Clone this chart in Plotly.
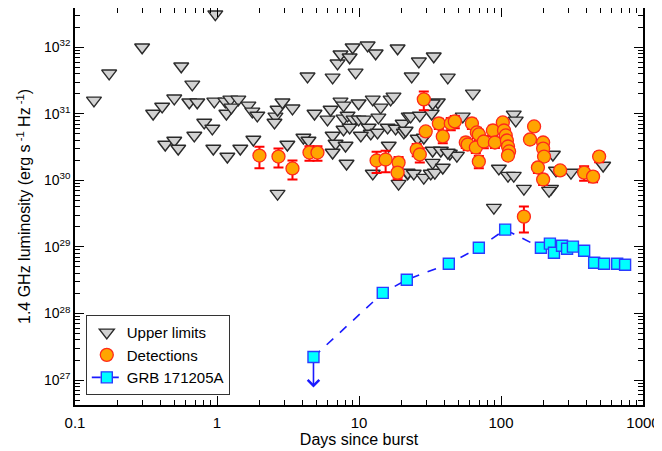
import math
import plotly.graph_objects as go

# ---------------- data ----------------
# Upper limits (days since burst, 1.4 GHz luminosity erg/s/Hz)
ul_days = [0.136, 0.174, 0.297, 0.973, 0.560, 0.355, 0.411, 0.500, 0.638, 0.670,
           0.432, 0.500, 0.533, 0.692, 0.726, 0.957, 1.145, 1.242, 1.413, 1.164,
           1.262, 1.663, 1.774, 1.923, 0.813, 0.927, 0.942, 1.183, 1.459, 1.803,
           2.58, 2.54, 2.67, 2.89, 3.40, 3.13, 2.67, 4.06, 4.41,
           4.34, 6.52, 7.06, 7.41, 8.59, 9.02, 9.46, 11.5, 13.1, 18.7,
           23.5, 26.4, 33.6, 42.2, 4.86, 6.00, 6.31, 7.41, 7.78, 9.93,
           12.5, 14.2, 16.7, 17.5, 7.78, 8.31, 9.16, 9.93, 10.8, 13.7,
           7.78, 8.59, 11.7, 12.1, 13.5, 15.9, 18.1, 20.3, 20.7, 22.4,
           10.3, 6.52, 6.84, 8.04, 6.52, 16.2, 8.17, 12.5, 19.0, 22.0,
           23.1, 26.8, 32.5, 35.9, 33.0, 63.4, 21.3, 53.8, 123, 127,
           25.9, 33.0, 37.7, 43.6, 48.9, 33.0, 22.0, 24.3, 28.6, 32.0,
           34.2, 38.9, 96.6, 112, 123, 89.1, 232, 145, 225, 218,
           244, 311, 524, 28.6, 42.2]
ul_lum = [1.59e31, 4.06e31, 1.0e32, 3.14e32, 5.18e31, 1.01e31, 1.29e31, 1.71e31, 1.49e31, 2.77e31,
          3.46e30, 3.97e30, 3.01e30, 4.73e30, 1.49e31, 1.54e31, 1.54e31, 1.65e31, 1.65e31, 1.01e31,
          1.25e31, 1.34e31, 1.09e31, 9.46e30, 7.42e30, 6.03e30, 3.01e30, 2.28e30, 3.01e30, 4.11e30,
          9.14e30, 7.42e30, 1.16e31, 1.49e31, 1.21e31, 3.46e30, 6.33e29, 4.41e30, 3.97e30,
          3.66e31, 3.53e31, 5.74e31, 7.85e31, 7.07e31, 1.0e32, 4.20e31, 1.07e32, 8.12e31, 9.66e31,
          3.66e31, 6.15e31, 7.32e31, 3.53e31, 1.01e31, 8.24e30, 1.16e31, 1.54e31, 1.34e31, 1.44e31,
          1.65e31, 1.25e31, 1.65e31, 1.83e31, 8.53e30, 9.46e30, 8.24e30, 8.24e30, 8.24e30, 8.83e30,
          5.82e30, 6.24e30, 6.24e30, 5.07e30, 5.25e30, 6.24e30, 6.03e30, 7.16e30, 5.25e30, 9.14e30,
          4.73e30, 4.73e30, 3.58e30, 3.34e30, 2.62e30, 3.34e30, 1.79e30, 1.27e30, 8.95e29, 1.27e30,
          9.14e30, 9.46e30, 1.01e31, 1.49e31, 1.44e31, 2.03e31, 5.62e30, 9.14e30, 9.8e30, 7.96e30,
          4.26e30, 2.81e30, 2.81e30, 2.53e30, 2.36e30, 1.85e30, 1.31e30, 1.27e30, 1.10e30, 1.27e30,
          1.31e30, 1.56e30, 1.51e30, 1.18e30, 1.18e30, 3.89e29, 2.45e30, 7.53e29, 7.53e29, 7.02e29,
          1.41e30, 1.31e30, 1.67e30, 4.41e30, 2.62e30]

# Detections
det_days = [1.99, 2.71, 3.40, 4.48, 5.10, 13.3, 15.4, 19.0, 18.7, 28.6,
            25.5, 26.8, 29.5, 36.5, 38.9, 44.3, 47.3, 62.4, 67.6, 69.8,
            56.5, 58.3, 66.5, 75.7, 69.8, 87.7, 90.6, 103, 105, 108,
            110, 112, 114, 112, 171, 160, 198, 198, 201, 182,
            198, 261, 385, 445, 491, 145]
det_lum = [2.36e30, 2.28e30, 1.51e30, 2.62e30, 2.62e30, 1.99e30, 2.06e30, 1.85e30, 1.31e30, 1.65e31,
           2.91e30, 2.45e30, 5.43e30, 7.16e30, 4.57e30, 7.16e30, 7.69e30, 7.16e30, 5.25e30, 4.90e30,
           3.71e30, 3.46e30, 3.12e30, 3.84e30, 1.92e30, 5.62e30, 3.71e30, 7.42e30, 5.62e30, 4.73e30,
           3.97e30, 3.23e30, 2.72e30, 2.36e30, 6.46e30, 4.11e30, 3.71e30, 3.01e30, 2.28e30, 1.56e30,
           1.03e30, 1.41e30, 1.31e30, 1.14e30, 2.28e30, 2.85e29]
det_err = [0.84e30, 0.72e30, 0.48e30, 0.64e30, 0.64e30, 0.70e30, 0.73e30, 0.39e30, 0.27e30, 0.52e31,
           0.61e30, 0.60e30, 0.75e30, 1.25e30, 0.96e30, 1.5e30, 1.6e30, 1.25e30, 0.91e30, 0.85e30,
           0.65e30, 0.60e30, 0.54e30, 0.80e30, 0.40e30, 0.98e30, 0.65e30, 1.03e30, 0.78e30, 0.66e30,
           0.55e30, 0.45e30, 0.38e30, 0.33e30, 0.68e30, 0.57e30, 0.52e30, 0.42e30, 0.32e30, 0.27e30,
           0.18e30, 0.20e30, 0.32e30, 0.20e30, 0.40e30, 1.2e29]

# GRB 171205A
grb_days = [4.78, 14.7, 21.7, 42.9, 69.8, 107, 191, 221, 236, 269, 292, 321, 385, 453, 532, 658, 748]
grb_lum = [2.22e27, 2.04e28, 3.21e28, 5.58e28, 9.73e28, 1.82e29, 9.73e28, 1.12e29, 8.18e28,
           1.04e29, 9.40e28, 1.01e29, 8.77e28, 5.78e28, 5.58e28, 5.58e28, 5.39e28]

x_tick_vals = [0.1, 1, 10, 100, 1000]
x_tick_text = ["0.1", "1", "10", "100", "1000"]
y_exponents = [27, 28, 29, 30, 31, 32]

# ---------------- figure ----------------
FONT = "Liberation Sans, Arial, sans-serif"

fig = go.Figure()

fig.add_trace(go.Scatter(
    x=ul_days, y=ul_lum, mode="markers", name="Upper limits",
    marker=dict(symbol="triangle-down", size=13, color="#d2d2d2",
                line=dict(color="#2a2a2a", width=1.4)),
))

fig.add_trace(go.Scatter(
    x=det_days, y=det_lum, mode="markers", name="Detections",
    marker=dict(symbol="circle", size=13, color="#ffa500",
                line=dict(color="#ff2a1a", width=1.3)),
    error_y=dict(type="data", array=det_err, visible=True,
                 color="#ff0000", thickness=2, width=5),
))

fig.add_trace(go.Scatter(
    x=grb_days, y=grb_lum, mode="lines+markers", name="GRB 171205A",
    line=dict(color="#1a1aff", width=1.6, dash="dash"),
    marker=dict(symbol="square", size=11, color="#00ffff",
                line=dict(color="#2a3cff", width=1.4)),
))

# upper-limit arrow on first GRB point
fig.add_annotation(
    x=math.log10(grb_days[0]), y=math.log10(grb_lum[0]),
    ax=0, ay=32, text="", showarrow=True,
    arrowside="start", startarrowhead=4, startarrowsize=1.4,
    arrowcolor="#1a1aff", arrowwidth=1.6, standoff=6,
)

minor_vals = []
for e in range(-1, 3):
    for m in range(2, 10):
        minor_vals.append(m * 10 ** e)
minor_y = []
for e in range(26, 33):
    for m in range(2, 10):
        minor_y.append(m * 10.0 ** e)

fig.update_xaxes(
    type="log", range=[-1, 3], automargin=False,
    tickvals=x_tick_vals, ticktext=x_tick_text,
    ticks="inside", ticklen=9, tickwidth=1.3, tickcolor="black",
    showline=True, linecolor="black", linewidth=1.5, mirror="allticks",
    showgrid=False, zeroline=False, ticklabelstandoff=3,
    minor=dict(tickvals=minor_vals, ticks="inside", ticklen=5, tickwidth=1.1,
               tickcolor="black", showgrid=False),
    title=dict(text="Days since burst", font=dict(size=16, color="black", family=FONT), standoff=4),
    tickfont=dict(size=15, color="black", family=FONT),
)
fig.update_yaxes(
    type="log", range=[26.625, 32.59], automargin=False,
    tickvals=[10.0 ** e for e in y_exponents],
    ticktext=["10<sup>%d</sup>" % e for e in y_exponents],
    ticks="inside", ticklen=9, tickwidth=1.3, tickcolor="black",
    showline=True, linecolor="black", linewidth=1.5, mirror="allticks",
    showgrid=False, zeroline=False,
    minor=dict(tickvals=minor_y, ticks="inside", ticklen=5, tickwidth=1.1,
               tickcolor="black", showgrid=False),
    title=dict(text="1.4 GHz luminosity (erg s<sup> -1</sup> Hz<sup> -1</sup>)",
               font=dict(size=16, color="black", family=FONT), standoff=9),
    tickfont=dict(size=14, color="black", family=FONT),
)

# the page body has an 8 px margin, so the figure is 8 px smaller and margins shifted
fig.update_layout(
    width=654, height=443,
    margin=dict(l=67, r=19, t=0, b=46),
    paper_bgcolor="white", plot_bgcolor="white",
    font=dict(family=FONT, color="black"),
    showlegend=True,
    legend=dict(x=0.019, y=0.025, xanchor="left", yanchor="bottom",
                bgcolor="white", bordercolor="#333333", borderwidth=1,
                font=dict(size=15, color="black", family=FONT),
                itemwidth=30, tracegroupgap=0),
)

fig.write_html("out.html")
